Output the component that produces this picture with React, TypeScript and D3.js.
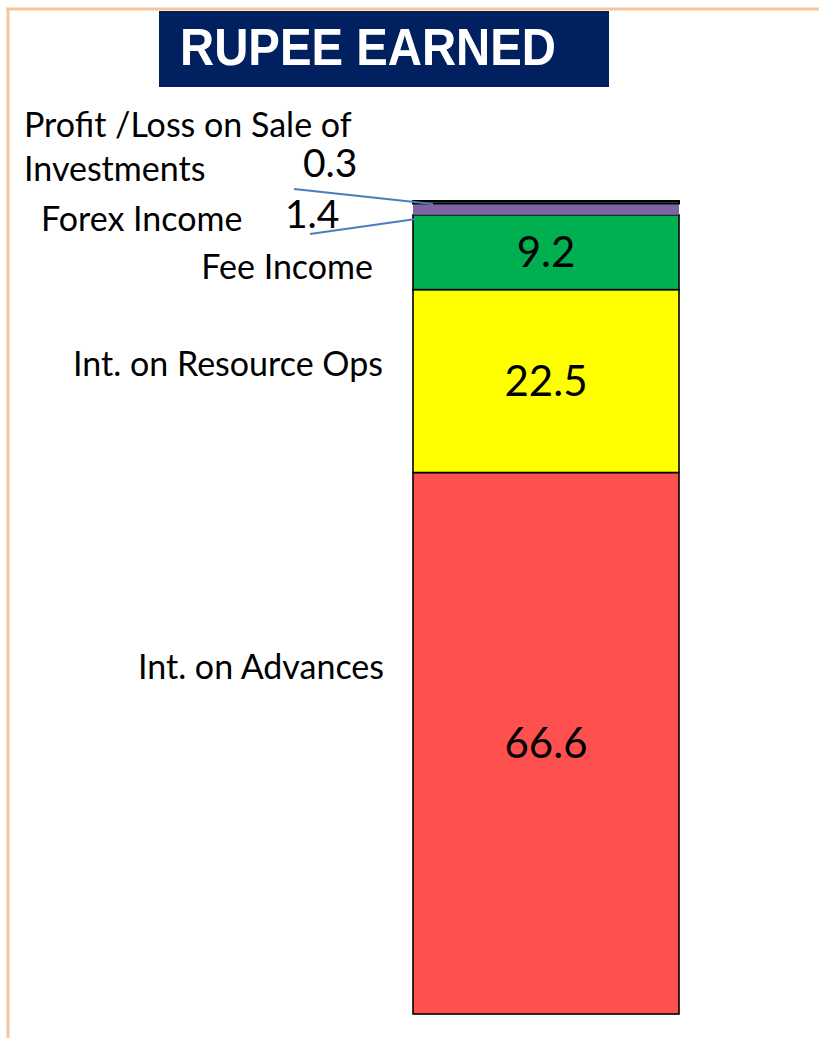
import React from "react";
import * as d3 from "d3";

const categories = [
  "Int. on Advances",
  "Int. on Resource Ops",
  "Fee Income",
  "Forex Income",
  "Profit /Loss on Sale of Investments",
];
const values = [66.6, 22.5, 9.2, 1.4, 0.3];
const colors = ["#FF5050", "#FFFF00", "#00B050", "#8064A2", "#2E86A8"];
const titleText = "RUPEE EARNED";

const W = 819;
const H = 1038;

export default function App() {
  const y = d3.scaleLinear().domain([0, 100]).range([1014, 201]);
  const x = d3.scaleBand().domain(["Rupee"]).range([413, 679]).padding(0);
  const bx = x("Rupee")!;
  const bw = x.bandwidth();

  const stacked = values.map((v, i) => {
    const start = d3.sum(values.slice(0, i));
    return { name: categories[i], value: v, color: colors[i], y0: start, y1: start + v, i };
  });

  const font = "Lato, 'Open Sans', sans-serif";

  // label positions (layout, not data)
  const catLayout: Record<number, { lines: string[]; x: number; ys: number[]; anchor: string }> = {
    0: { lines: ["Int. on Advances"], x: 384, ys: [679], anchor: "end" },
    1: { lines: ["Int. on Resource Ops"], x: 383, ys: [376], anchor: "end" },
    2: { lines: ["Fee Income"], x: 373, ys: [279], anchor: "end" },
    3: { lines: ["Forex Income"], x: 41, ys: [231], anchor: "start" },
    4: { lines: ["Profit /Loss on Sale of", "Investments"], x: 24, ys: [137, 181], anchor: "start" },
  };

  return (
    <svg
      width={W}
      height={H}
      style={{ position: "absolute", left: 0, top: 0, background: "#fff" }}
      fontFamily={font}
    >
      <rect x={0} y={0} width={W} height={H} fill="#fff" />
      {/* frame */}
      <line x1={6} y1={9} x2={W} y2={9} stroke="#F8C59A" strokeWidth={3} />
      <line x1={8} y1={9} x2={8} y2={H} stroke="#F8C59A" strokeWidth={3} />

      {/* title */}
      <rect x={159} y={11} width={450} height={76} fill="#002060" />
      <text
        x={180}
        y={65}
        fill="#fff"
        fontFamily="'Liberation Sans', Arial, sans-serif"
        fontWeight="bold"
        fontSize={51}
        textLength={376}
        lengthAdjust="spacingAndGlyphs"
      >
        {titleText}
      </text>

      {/* bars */}
      {stacked.map((s) => (
        <rect
          key={s.name}
          x={bx}
          y={y(s.y1)}
          width={bw}
          height={y(s.y0) - y(s.y1)}
          fill={s.color}
          stroke={s.i === 3 ? "none" : "#000"}
          strokeWidth={s.i === 4 ? 2 : 1.6}
        />
      ))}

      {/* value labels inside */}
      {stacked.slice(0, 3).map((s) => (
        <text
          key={"v" + s.name}
          x={bx + bw / 2}
          y={(y(s.y0) + y(s.y1)) / 2}
          dy="0.36em"
          textAnchor="middle"
          fontSize={42}
          fill="#000"
        >
          {s.value.toFixed(1)}
        </text>
      ))}

      {/* outside value labels with leader lines */}
      <text x={303} y={177} fontSize={39} fill="#000">
        {values[4].toFixed(1)}
      </text>
      <line x1={294} y1={189} x2={433} y2={204} stroke="#4A7EBB" strokeWidth={2} />
      <text x={285} y={228} fontSize={39} fill="#000">
        {values[3].toFixed(1)}
      </text>
      <line x1={310} y1={234} x2={416} y2={219} stroke="#4A7EBB" strokeWidth={2} />

      {/* category labels */}
      {stacked.map((s) => {
        const L = catLayout[s.i];
        return L.lines.map((ln, k) => (
          <text
            key={s.name + k}
            x={L.x}
            y={L.ys[k]}
            textAnchor={L.anchor as any}
            fontSize={34}
            fill="#000"
          >
            {ln}
          </text>
        ));
      })}
    </svg>
  );
}
